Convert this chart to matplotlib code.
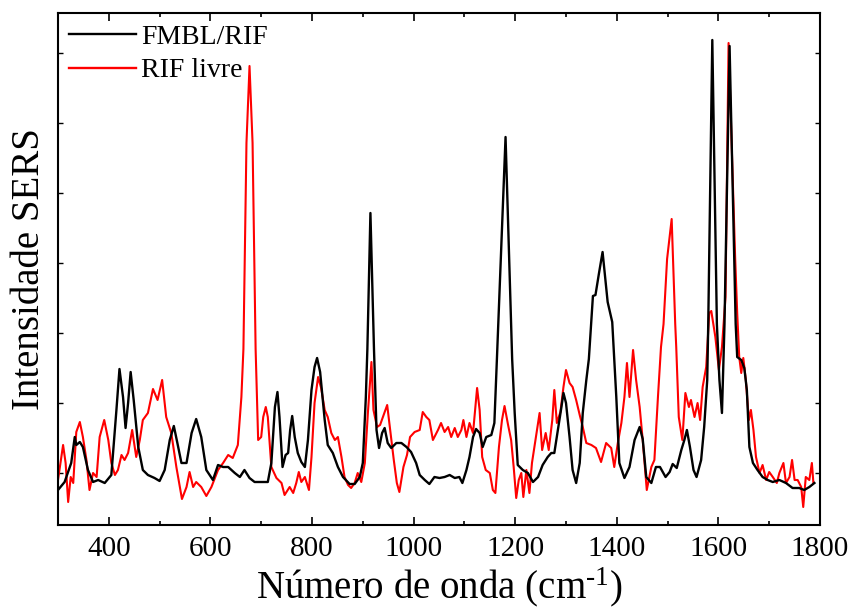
import matplotlib
matplotlib.use("Agg")
import matplotlib.pyplot as plt
from matplotlib.ticker import MultipleLocator, FixedLocator

# ---- data (wavenumber cm^-1, intensity in arbitrary units) ----
fmbl_wn = [300, 313, 326, 333, 336, 343, 349, 359, 369, 379, 392, 405, 415, 421, 428, 433, 438, 443, 449, 458,
           467, 477, 490, 500, 510, 520, 528, 535, 543, 553, 563, 572, 582, 592, 605, 615, 625, 635, 648, 658,
           667, 677, 687, 700, 713, 720, 727, 732, 736, 742, 748, 753, 757, 761, 766, 772, 779, 786, 792, 799,
           805, 810, 816, 825, 831, 841, 851, 861, 874, 884, 894, 900, 906, 909, 915, 922, 927, 932, 938, 943,
           949, 956, 966, 976, 986, 995, 1005, 1012, 1022, 1031, 1041, 1051, 1061, 1071, 1081, 1090, 1096, 1104,
           1110, 1117, 1123, 1130, 1136, 1143, 1153, 1159, 1164, 1181, 1194, 1199, 1205, 1215, 1225, 1235, 1245,
           1254, 1264, 1271, 1277, 1284, 1291, 1295, 1300, 1307, 1313, 1320, 1327, 1333, 1340, 1345, 1353, 1358,
           1365, 1372, 1382, 1391, 1395, 1399, 1405, 1415, 1425, 1435, 1445, 1451, 1458, 1468, 1477, 1485, 1496,
           1504, 1510, 1518, 1527, 1533, 1538, 1544, 1551, 1557, 1566, 1572, 1578, 1580, 1588, 1597, 1602, 1607,
           1612, 1622, 1634, 1637, 1645, 1651, 1656, 1661, 1668, 1677, 1687, 1697, 1707, 1720, 1733, 1746, 1759,
           1769, 1779, 1789]
fmbl_int = [33, 41, 60, 86, 78, 81, 76, 53, 41, 43, 40, 48, 113, 154, 126, 95, 120, 151, 123, 76,
            53, 48, 45, 42, 53, 83, 97, 80, 60, 60, 90, 104, 86, 53, 43, 58, 56, 56, 50, 46,
            53, 45, 41, 41, 41, 60, 116, 131, 106, 56, 68, 70, 93, 107, 86, 70, 61, 56, 83, 133,
            156, 165, 151, 103, 78, 70, 56, 46, 39, 39, 46, 60, 126, 174, 310, 174, 93, 75, 90, 95,
            80, 75, 80, 80, 76, 71, 60, 48, 43, 39, 46, 45, 46, 48, 45, 46, 40, 53,
            66, 86, 94, 90, 76, 86, 88, 100, 164, 386, 164, 110, 58, 53, 50, 41, 46,
            58, 66, 70, 70, 93, 116, 130, 120, 86, 53, 40, 60, 110, 143, 164, 227, 228,
            250, 271, 221, 201, 164, 126, 60, 45, 56, 83, 96, 84, 46, 40, 56, 56, 46,
            51, 59, 55, 73, 83, 93, 76, 53, 46, 63, 96, 143, 199, 483, 199, 143, 110,
            199, 477, 199, 166, 163, 155, 133, 76, 60, 53, 46, 43, 41, 43, 40, 35, 35,
            33, 36, 40]

rif_wn = [300, 310, 315, 320, 325, 330, 336, 343, 349, 356, 362, 369, 376, 382, 391, 399, 405, 412, 418, 425,
          431, 438, 446, 454, 461, 467, 477, 487, 496, 505, 513, 523, 533, 544, 553, 559, 566, 572, 582, 592,
          602, 615, 625, 635, 644, 654, 661, 665, 671, 677, 683, 689, 694, 700, 704, 709, 713, 720, 730, 740,
          746, 756, 763, 769, 774, 779, 786, 794, 799, 805, 812, 818, 825, 831, 838, 845, 851, 858, 864, 871,
          877, 884, 890, 897, 904, 910, 917, 921, 928, 934, 941, 948, 954, 961, 967, 972, 980, 987, 993, 1002,
          1012, 1018, 1025, 1031, 1038, 1048, 1054, 1061, 1068, 1074, 1081, 1087, 1094, 1098, 1104, 1110, 1117,
          1125, 1130, 1135, 1142, 1150, 1156, 1161, 1168, 1174, 1179, 1186, 1192, 1197, 1202, 1207, 1212, 1216,
          1222, 1228, 1233, 1240, 1248, 1253, 1260, 1266, 1273, 1277, 1282, 1289, 1295, 1300, 1307, 1313, 1320,
          1327, 1333, 1340, 1350, 1359, 1369, 1379, 1389, 1395, 1402, 1409, 1415, 1420, 1425, 1432, 1438, 1445,
          1451, 1459, 1468, 1474, 1481, 1487, 1492, 1499, 1508, 1515, 1517, 1522, 1529, 1535, 1542, 1546, 1553,
          1559, 1564, 1569, 1576, 1582, 1586, 1594, 1601, 1607, 1614, 1620, 1633, 1637, 1641, 1645, 1649, 1654,
          1660, 1664, 1669, 1674, 1681, 1687, 1694, 1700, 1707, 1715, 1720, 1728, 1733, 1740, 1745, 1750, 1756,
          1763, 1767, 1772, 1779, 1784, 1787]
rif_int = [43, 78, 60, 21, 46, 40, 91, 101, 86, 63, 33, 50, 46, 86, 103, 83, 60, 48, 53, 68,
           63, 70, 93, 66, 83, 103, 110, 134, 123, 143, 106, 90, 56, 24, 36, 51, 36, 41, 36, 27,
           36, 53, 60, 68, 65, 78, 126, 174, 380, 457, 380, 174, 83, 86, 106, 116, 106, 56, 45, 40,
           28, 36, 30, 40, 51, 41, 46, 33, 66, 120, 146, 135, 113, 106, 90, 83, 86, 66, 46, 38,
           35, 40, 50, 41, 60, 110, 161, 113, 96, 98, 108, 118, 93, 63, 40, 31, 56, 68, 86, 91,
           93, 111, 106, 103, 83, 93, 100, 91, 96, 86, 95, 86, 93, 103, 86, 100, 90,
           135, 113, 66, 53, 50, 33, 30, 76, 103, 117, 98, 83, 56, 25, 43, 50, 26,
           53, 30, 60, 83, 110, 73, 90, 73, 103, 133, 100, 111, 136, 153, 140, 136, 123,
           108, 96, 80, 78, 75, 61, 80, 75, 56, 80, 100, 126, 160, 126, 173, 143, 116,
           83, 33, 56, 63, 126, 176, 199, 264, 304, 199, 176, 106, 83, 130, 116, 123, 106,
           120, 103, 136, 156, 210, 212, 186, 153, 176, 226, 480, 265, 210, 166, 150, 165, 143,
           103, 113, 93, 66, 50, 58, 43, 51, 46, 40, 50, 60, 40, 46, 63, 43, 43,
           36, 16, 46, 43, 60, 40]

series_labels = ["FMBL/RIF", "RIF livre"]
x_major_ticks = [400, 600, 800, 1000, 1200, 1400, 1600, 1800]

plt.rcParams["font.family"] = ["Liberation Serif", "DejaVu Serif"]
plt.rcParams["mathtext.fontset"] = "custom"
plt.rcParams["mathtext.rm"] = "Liberation Serif"
plt.rcParams["mathtext.it"] = "Liberation Serif:italic"

fig = plt.figure(figsize=(8.56, 6.09), dpi=100)
ax = fig.add_axes([58 / 856, 1 - 525 / 609, (820 - 58) / 856, (525 - 13) / 609])

ax.plot(fmbl_wn, fmbl_int, color="black", lw=1.7, label=series_labels[0], zorder=3)
ax.plot(rif_wn, rif_int, color="red", lw=1.5, label=series_labels[1], zorder=2)

ax.set_xlim(300, 1800)
ax.set_ylim(-2, 510)
ax.set_xticks(x_major_ticks)
ax.xaxis.set_minor_locator(MultipleLocator(100))
ax.yaxis.set_major_locator(FixedLocator([50, 120, 190, 260, 330, 400, 470]))
ax.set_yticklabels([])

ax.tick_params(axis="x", which="major", direction="in", length=6, width=1.2,
               top=True, labelsize=21, pad=8)
ax.tick_params(axis="x", which="minor", direction="in", length=3, width=1.2, top=True)
ax.tick_params(axis="y", which="major", direction="in", length=3.5, width=1.0, right=True)
for s in ax.spines.values():
    s.set_linewidth(1.5)

ax.set_xlabel(r"Número de onda (cm$^{\mathrm{\text{-}1}}$)", fontsize=28, labelpad=2)
ax.set_ylabel("Intensidade SERS", fontsize=28, labelpad=4)

leg = ax.legend(loc="upper left", bbox_to_anchor=(0.0, 1.0), frameon=False, fontsize=20,
                handlelength=2.4, handletextpad=0.2, labelspacing=0.3, borderpad=0.2,
                borderaxespad=0.2)
for h in leg.get_lines():
    h.set_linewidth(1.7)

fig.savefig("out.png", dpi=100)
